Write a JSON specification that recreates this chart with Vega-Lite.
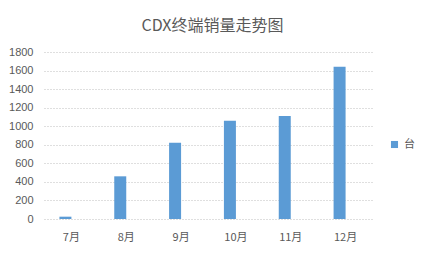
{
  "$schema": "https://vega.github.io/schema/vega-lite/v6.json",
  "autosize": "none",
  "width": 329,
  "height": 167,
  "padding": {"left": 44, "top": 52, "right": 56, "bottom": 34},
  "background": "white",
  "title": {
    "text": "CDX终端销量走势图",
    "font": "Noto Sans CJK SC",
    "fontSize": 16,
    "fontWeight": "normal",
    "color": "#595959",
    "anchor": "middle",
    "dx": 4,
    "offset": 12
  },
  "data": {
    "values": [
      {"month": "7月", "series": "台", "value": 25},
      {"month": "8月", "series": "台", "value": 460},
      {"month": "9月", "series": "台", "value": 822},
      {"month": "10月", "series": "台", "value": 1060},
      {"month": "11月", "series": "台", "value": 1110},
      {"month": "12月", "series": "台", "value": 1640}
    ]
  },
  "mark": {"type": "bar", "width": 12, "xOffset": -6},
  "encoding": {
    "x": {
      "field": "month",
      "type": "nominal",
      "sort": null,
      "title": null,
      "axis": {
        "labelAngle": 0,
        "labelFont": "Noto Sans CJK SC",
        "labelFontSize": 11,
        "labelColor": "#595959",
        "labelPadding": 12,
        "ticks": false,
        "domain": false
      }
    },
    "y": {
      "field": "value",
      "type": "quantitative",
      "title": null,
      "scale": {"domain": [0, 1800]},
      "axis": {
        "values": [0, 200, 400, 600, 800, 1000, 1200, 1400, 1600, 1800],
        "format": "d",
        "labelFont": "Liberation Sans",
        "labelFontSize": 11,
        "labelColor": "#595959",
        "labelPadding": 11,
        "ticks": false,
        "domain": false,
        "grid": true,
        "gridColor": "#bfbfbf",
        "gridDash": [1, 2],
        "gridWidth": 1
      }
    },
    "color": {
      "field": "series",
      "type": "nominal",
      "scale": {"range": ["#5B9BD5"]},
      "legend": {
        "title": null,
        "orient": "none",
        "legendX": 345,
        "legendY": 87,
        "symbolType": "square",
        "symbolSize": 50,
        "labelFont": "Noto Sans CJK SC",
        "labelFontSize": 11,
        "labelColor": "#595959"
      }
    }
  },
  "config": {
    "view": {"stroke": null}
  }
}
